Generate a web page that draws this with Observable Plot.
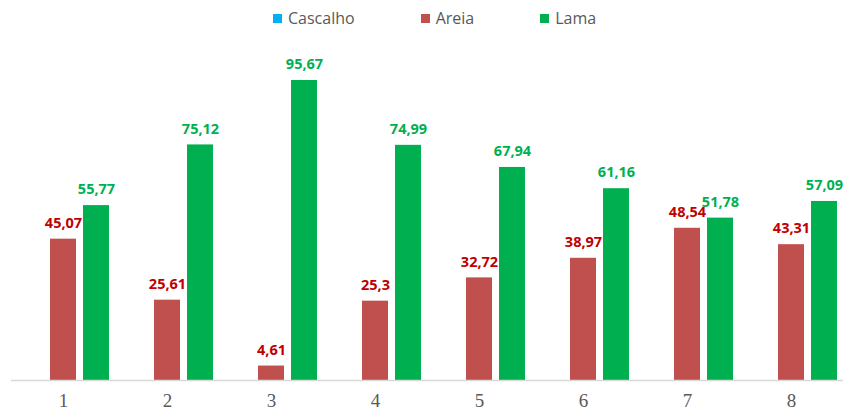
<!DOCTYPE html>
<html>
<head>
<meta charset="utf-8">
<script src="https://cdn.jsdelivr.net/npm/d3@7"></script>
<script src="https://cdn.jsdelivr.net/npm/@observablehq/plot@0.6"></script>
<style>
  body { margin: 0; background: #fff; }
  #legend { height: 36px; display: flex; align-items: center; justify-content: flex-start; padding-left: 273px; box-sizing: border-box; font-family: "Open Sans", sans-serif; font-size: 16px; color: #595959; }
  #legend .item { display: flex; align-items: center; gap: 6px; }
  #legend .item + .item { margin-left: 66px; }
  #legend .sw { width: 9px; height: 9px; display: inline-block; }
</style>
</head>
<body>
<div id="legend"></div>
<div id="chart"></div>
<script>
const groups = ["1", "2", "3", "4", "5", "6", "7", "8"];
const series = ["Cascalho", "Areia", "Lama"];
const cascalho = [0, 0, 0, 0, 0, 0, 0, 0];
const areia = [45.07, 25.61, 4.61, 25.3, 32.72, 38.97, 48.54, 43.31];
const lama = [55.77, 75.12, 95.67, 74.99, 67.94, 61.16, 51.78, 57.09];
const barColors = ["#00b0f0", "#c0504d", "#00b050"];
const labelColors = ["#00b0f0", "#c00000", "#00b050"];

const valuesBySeries = {Cascalho: cascalho, Areia: areia, Lama: lama};
const data = [];
groups.forEach((g, i) => {
  series.forEach(s => data.push({group: g, serie: s, value: valuesBySeries[s][i]}));
});
const labeled = data.filter(d => d.serie !== "Cascalho");

// legend
const legend = document.getElementById("legend");
series.forEach((s, i) => {
  const item = document.createElement("div");
  item.className = "item";
  item.innerHTML = `<span class="sw" style="background:${barColors[i]}"></span><span>${s}</span>`;
  legend.appendChild(item);
});

const chart = Plot.plot({
  width: 843,
  height: 376,
  marginLeft: 10,
  marginRight: 0,
  marginTop: 30.4,
  marginBottom: 32,
  style: {fontFamily: "'Liberation Serif', serif", fontSize: "19px", color: "#595959", background: "#fff"},
  fx: {domain: groups, padding: 0, label: null, tickSize: 0, tickPadding: 13},
  x: {domain: series, axis: null, paddingInner: 0.212, paddingOuter: 0.18},
  y: {domain: [0, 100], axis: null},
  color: {domain: series, range: barColors},
  marks: [
    Plot.barY(data, {fx: "group", x: "serie", y: "value", fill: "serie"}),
    Plot.ruleY([0], {stroke: "#d9d9d9", strokeWidth: 1.5}),
    Plot.text(labeled, {
      fx: "group", x: "serie", y: "value",
      text: d => String(d.value).replace(".", ","),
      dy: -16,
      fill: d => labelColors[series.indexOf(d.serie)],
      fontFamily: "'Open Sans', sans-serif",
      fontWeight: "bold",
      fontSize: 14.5
    })
  ]
});
document.getElementById("chart").appendChild(chart);
</script>
</body>
</html>
